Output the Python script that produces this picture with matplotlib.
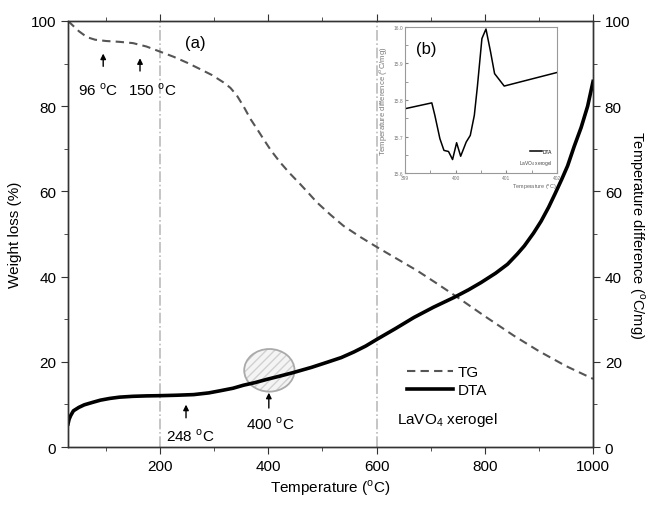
import matplotlib
matplotlib.use("Agg")
import matplotlib.pyplot as plt
from matplotlib.patches import Ellipse
from matplotlib.ticker import MultipleLocator

plt.rcParams['font.family'] = ['Liberation Sans', 'DejaVu Sans']
plt.rcParams['mathtext.fontset'] = 'custom'
plt.rcParams['mathtext.rm'] = 'Liberation Sans'

# TG curve (weight loss, left axis)
tg_temp = [30, 40, 50, 65, 80, 100, 125, 150, 175, 200, 225, 250, 274, 296, 317, 330,
           342, 355, 367, 380, 391, 405, 422, 440, 459, 475, 490, 515, 539, 570, 601,
           640, 675, 710, 750, 800, 854, 900, 950, 1000]
tg_loss = [100, 98.8, 97.6, 96.2, 95.6, 95.3, 95.1, 94.8, 94.0, 92.8, 91.6, 90.2, 88.7,
           87.3, 85.6, 84.3, 82.5, 79.8, 77.0, 74.5, 72.3, 69.6, 66.8, 64.2, 61.7, 59.5,
           57.4, 54.5, 51.9, 49.3, 46.9, 44.0, 41.4, 38.5, 35.1, 30.7, 26.1, 22.5, 19.0, 16.0]

# DTA curve (temperature difference, right axis)
dta_temp = [30, 32, 35, 40, 50, 60, 76, 90, 107, 125, 150, 175, 200, 230, 262, 290,
            311, 335, 354, 375, 398, 420, 447, 480, 509, 535, 558, 580, 601, 635, 669,
            705, 743, 770, 793, 820, 842, 860, 873, 890, 904, 918, 930, 942, 953, 965,
            978, 990, 1000]
dta_diff = [5.4, 6.5, 7.4, 8.5, 9.3, 9.9, 10.5, 11.0, 11.4, 11.7, 11.9, 12.0, 12.05,
            12.15, 12.3, 12.7, 13.2, 13.8, 14.5, 15.1, 15.9, 16.6, 17.5, 18.7, 19.9,
            21.0, 22.3, 23.7, 25.3, 27.8, 30.4, 32.8, 35.1, 36.9, 38.6, 40.8, 42.9,
            45.3, 47.2, 50.2, 53.0, 56.3, 59.5, 62.8, 66.0, 70.5, 75.0, 80.0, 85.8]

# inset (b) DTA zoom
ins_temp = [399.0, 399.53, 399.59, 399.69, 399.77, 399.86, 399.94, 400.02, 400.10,
            400.21, 400.29, 400.37, 400.43, 400.52, 400.60, 400.69, 400.77, 400.96, 402.0]
ins_diff = [15.776, 15.792, 15.758, 15.694, 15.662, 15.659, 15.637, 15.683, 15.646,
            15.685, 15.703, 15.758, 15.836, 15.968, 15.994, 15.932, 15.872, 15.838, 15.875]

fig = plt.figure(figsize=(6.49, 5.06), dpi=100)
ax = fig.add_axes([0.1048, 0.1146, 0.809, 0.842])
ax2 = ax.twinx()

edge = '#333333'
ax.axvline(200, color='#bbbbbb', ls='-.', lw=1.2, zorder=0)
ax.axvline(600, color='#bbbbbb', ls='-.', lw=1.2, zorder=0)

tg_line, = ax.plot(tg_temp, tg_loss, color='#555555', ls=(0, (4, 2.5)), lw=1.5, label='TG')
dta_line, = ax2.plot(dta_temp, dta_diff, color='black', lw=2.6, label='DTA',
                     solid_joinstyle='round')

ax.set_xlim(30, 1000)
ax.set_ylim(0, 100)
ax2.set_ylim(0, 100)
ax.xaxis.set_major_locator(MultipleLocator(200))
ax.xaxis.set_minor_locator(MultipleLocator(100))
for a in (ax, ax2):
    a.yaxis.set_major_locator(MultipleLocator(20))
    a.yaxis.set_minor_locator(MultipleLocator(10))
    for s in a.spines.values():
        s.set_color(edge)
        s.set_linewidth(1.0)
    a.tick_params(which='both', direction='out', colors=edge, labelcolor='black', labelsize=11)
    a.tick_params(which='major', length=5)
    a.tick_params(which='minor', length=3)
ax.tick_params(axis='x', which='both', top=True)

ax.set_xlabel('Temperature ($^{\\rm o}$C)', fontsize=11, labelpad=3)
ax.set_ylabel('Weight loss (%)', fontsize=11, labelpad=6)
ax2.set_ylabel('Temperature difference ($^{\\rm o}$C/mg)', fontsize=10.5, rotation=270,
               labelpad=12)

# highlight around 400 C
ax2.add_patch(Ellipse((402, 18.0), 93, 10, facecolor='#f4f4f4', edgecolor='#d0d0d0',
                      hatch='////', lw=0, zorder=1))
ax2.add_patch(Ellipse((402, 18.0), 93, 10, facecolor='none', edgecolor='#aaaaaa',
                      lw=1.3, zorder=1))

arr = dict(arrowstyle='-|>', color='black', lw=1.0, mutation_scale=8)
ax.annotate('', xy=(95, 93.0), xytext=(95, 88.7), arrowprops=arr)
ax.annotate('', xy=(163, 91.9), xytext=(163, 87.6), arrowprops=arr)
ax.text(85, 84, '96 $^{\\rm o}$C', fontsize=11, ha='center', va='center')
ax.text(185, 84, '150 $^{\\rm o}$C', fontsize=11, ha='center', va='center')
ax2.annotate('', xy=(248, 10.6), xytext=(248, 6.2), arrowprops=arr)
ax2.annotate('', xy=(401, 13.4), xytext=(401, 8.5), arrowprops=arr)
ax2.text(256, 2.8, '248 $^{\\rm o}$C', fontsize=11, ha='center', va='center')
ax2.text(404, 5.5, '400 $^{\\rm o}$C', fontsize=11, ha='center', va='center')
ax.text(265, 95, '(a)', fontsize=12, ha='center', va='center')

ax2.legend([tg_line, dta_line], ['TG', 'DTA'], loc='lower left', bbox_to_anchor=(0.62, 0.085),
           frameon=False, fontsize=11, handlelength=3.0, handletextpad=0.3, labelspacing=0.25)
ax2.text(637, 6.6, 'LaVO$_4$ xerogel', fontsize=11, ha='left', va='center')

# inset (b)
ins = fig.add_axes([0.624, 0.656, 0.234, 0.289])
ins.plot(ins_temp, ins_diff, color='black', lw=1.1, label='DTA')
ins.set_xlim(399, 402)
ins.set_ylim(15.6, 16.0)
ins.set_xticks([399, 400, 401, 402])
ins.set_xticks([399.5, 400.5, 401.5], minor=True)
ins.set_yticks([15.6, 15.7, 15.8, 15.9, 16.0])
ins.set_yticks([15.65, 15.75, 15.85, 15.95], minor=True)
ins.set_xticklabels(['399', '400', '401', '402'])
ins.set_yticklabels(['15.6', '15.7', '15.8', '15.9', '16.0'])
ins.tick_params(which='both', direction='in', colors='#888888', labelcolor='#777777',
                labelsize=3.5, length=2, pad=1.5)
for s in ins.spines.values():
    s.set_color('#999999')
    s.set_linewidth(0.8)
ins.set_xlabel('Temperature ($^{\\rm o}$C)', fontsize=4, color='#666666', loc='right', labelpad=1)
ins.set_ylabel('Temperature difference ($^{\\rm o}$C/mg)', fontsize=5.5, color='#777777', labelpad=2)
ins.text(399.43, 15.94, '(b)', fontsize=12, ha='center', va='center')
ins.legend(loc='lower right', bbox_to_anchor=(1.0, 0.1), frameon=False, fontsize=3.5,
           handlelength=2.5, handletextpad=0.2)
ins.text(0.97, 0.07, 'LaVO$_4$ xerogel', transform=ins.transAxes, fontsize=3.5,
         ha='right', va='center', color='#444444')

fig.savefig('out.png', dpi=100)
